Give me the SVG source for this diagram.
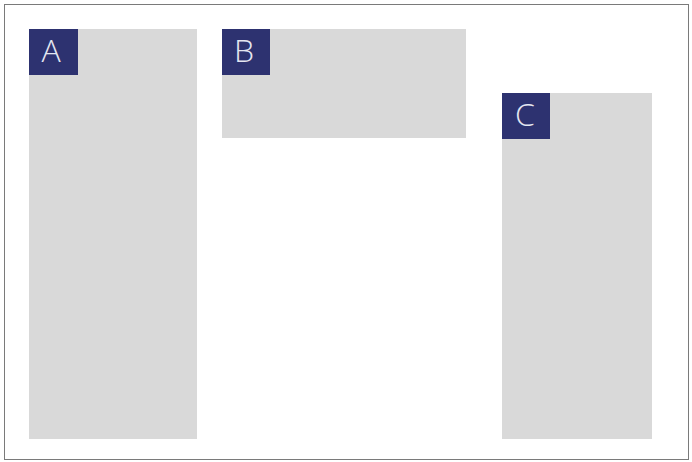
<svg xmlns="http://www.w3.org/2000/svg" width="692" height="462" viewBox="0 0 692 462">
<style>
.panel{fill:#d9d9d9}
.tag{fill:#2d3270}
.lbl{font-family:"Open Sans","Noto Sans",sans-serif;font-weight:300;font-size:32px;fill:#e4e6f0;text-anchor:middle}
</style>
<rect x="0" y="0" width="692" height="462" fill="#ffffff"/>
<rect x="4.5" y="4.5" width="684" height="455" fill="none" stroke="#7a7a7a" stroke-width="1"/>
<g id="A">
<rect class="panel" x="29" y="29" width="168" height="410"/>
<rect class="tag" x="29" y="29" width="49" height="46"/>
<text class="lbl" x="51" y="61.5">A</text>
</g>
<g id="B">
<rect class="panel" x="222" y="29" width="244" height="109"/>
<rect class="tag" x="222" y="29" width="48" height="46"/>
<text class="lbl" x="244" y="61.5">B</text>
</g>
<g id="C">
<rect class="panel" x="502" y="93" width="150" height="346"/>
<rect class="tag" x="502" y="93" width="48" height="46"/>
<text class="lbl" x="525" y="126">C</text>
</g>
<g id="connectors"></g>
</svg>
